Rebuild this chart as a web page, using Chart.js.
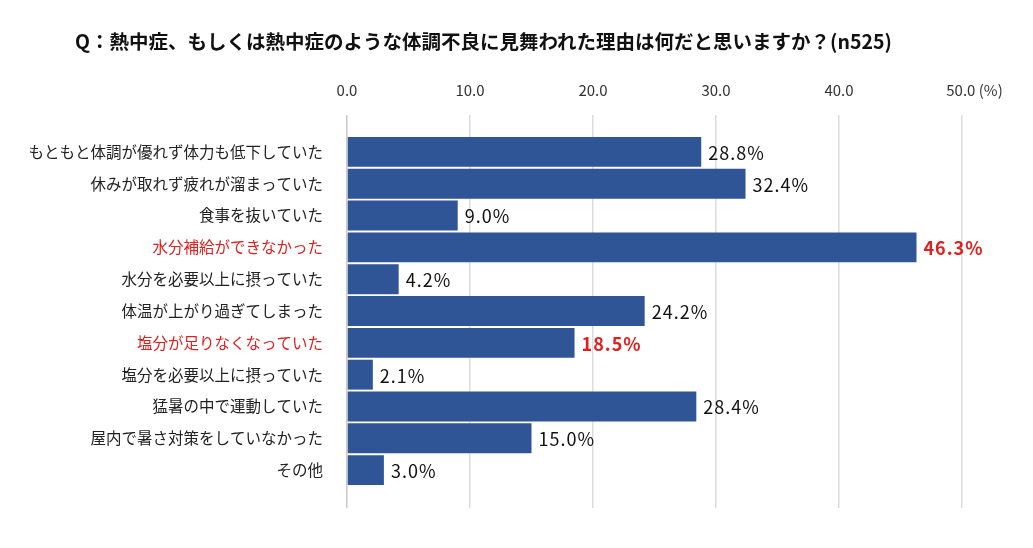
<!DOCTYPE html>
<html lang="ja">
<head>
<meta charset="utf-8">
<script src="https://cdn.jsdelivr.net/npm/chart.js@4/dist/chart.umd.min.js"></script>
<style>
  html, body { margin: 0; padding: 0; background: #fff; }
  #wrap { position: relative; width: 1033px; height: 548px; }
  #title {
    position: absolute; left: 75px; top: 26px;
    font: bold 19.5px "Noto Sans CJK JP", sans-serif; color: #111;
    white-space: nowrap;
  }
</style>
</head>
<body>
<div id="wrap">
  <div id="title">Q：熱中症、もしくは熱中症のような体調不良に見舞われた理由は何だと思いますか？(n525)</div>
  <canvas id="reasonChart" width="1033" height="548"></canvas>
</div>
<script>
// reasons, top to bottom
var reasons = [
  "もともと体調が優れず体力も低下していた",
  "休みが取れず疲れが溜まっていた",
  "食事を抜いていた",
  "水分補給ができなかった",
  "水分を必要以上に摂っていた",
  "体温が上がり過ぎてしまった",
  "塩分が足りなくなっていた",
  "塩分を必要以上に摂っていた",
  "猛暑の中で運動していた",
  "屋内で暑さ対策をしていなかった",
  "その他"
];
// share of respondents (%)
var shares = [28.8, 32.4, 9.0, 46.3, 4.2, 24.2, 18.5, 2.1, 28.4, 15.0, 3.0];
// rows shown in red
var highlighted = [3, 6];
var axisTicks = [0, 10, 20, 30, 40, 50];

var BAR_COLOR = "#2f5597";
var RED = "#e0201f";
var FONT = "'Noto Sans CJK JP', sans-serif";

function isHot(i) {
  return highlighted.indexOf(i) !== -1;
}

/**
 * Writes the percentage just past the end of each bar
 */
var valueLabels = {
  id: "valueLabels",
  afterDatasetsDraw: function(chart) {
    var ctx = chart.ctx;
    var meta = chart.getDatasetMeta(0);
    ctx.save();
    ctx.textBaseline = "middle";
    ctx.textAlign = "left";
    ctx.letterSpacing = "1px";
    meta.data.forEach(function(bar, i) {
      var hot = isHot(i);
      ctx.fillStyle = hot ? RED : "#111";
      ctx.font = (hot ? "bold " : "") + "18px " + FONT;
      ctx.fillText(shares[i].toFixed(1) + "%", bar.x + 7, bar.y + 1);
    });
    ctx.restore();
  }
};

var ctx = document.getElementById("reasonChart").getContext("2d");

var reasonChart = new Chart(ctx, {
  type: "bar",
  data: {
    datasets: [{
      data: shares.map(function(v, i) { return { x: v, y: i }; }),
      backgroundColor: BAR_COLOR,
      borderWidth: 0,
      categoryPercentage: 1.0,
      barPercentage: 0.94
    }]
  },
  options: {
    indexAxis: "y",
    responsive: false,
    animation: false,
    events: [],
    layout: { padding: { top: 65, right: 71, bottom: 40, left: 0 } },
    plugins: {
      legend: { display: false },
      tooltip: { enabled: false },
      title: { display: false }
    },
    scales: {
      x: {
        type: "linear",
        position: "top",
        min: 0,
        max: 50,
        afterBuildTicks: function(scale) {
          scale.ticks = axisTicks.map(function(v) { return { value: v }; });
        },
        ticks: {
          padding: 16,
          color: "#333",
          font: { family: FONT, size: 15 },
          callback: function(v) {
            return v === 50 ? "\u2007\u2007\u200750.0 (%)" : v.toFixed(1);
          }
        },
        grid: {
          color: function(c) { return c.tick && c.tick.value === 0 ? "#c8c8c8" : "#dcdcdc"; },
          lineWidth: 1.5,
          drawTicks: false
        },
        border: { display: false }
      },
      y: {
        type: "linear",
        reverse: true,
        offset: false,
        min: -1.16,
        max: 11.19,
        afterBuildTicks: function(scale) {
          scale.ticks = reasons.map(function(_, i) { return { value: i }; });
        },
        afterFit: function(scale) {
          scale.width = 347;
        },
        ticks: {
          padding: 16,
          autoSkip: false,
          color: function(c) { return isHot(c.index) ? RED : "#222"; },
          font: { family: FONT, size: 15.5 },
          callback: function(v) { return reasons[v]; }
        },
        grid: { display: false, offset: false },
        border: { display: false }
      }
    }
  },
  plugins: [valueLabels]
});
</script>
</body>
</html>
